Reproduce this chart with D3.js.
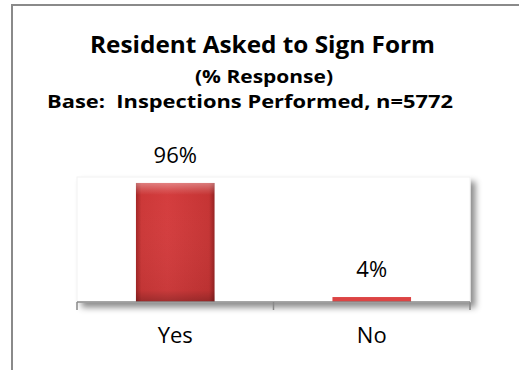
<!DOCTYPE html>
<html>
<head>
<meta charset="utf-8">
<script src="https://cdn.jsdelivr.net/npm/d3@7"></script>
<style>
  html, body { margin: 0; padding: 0; background: #fff; overflow: hidden; }
  svg { display: block; }
  text { font-family: "Open Sans", "Noto Sans", sans-serif; fill: #000; white-space: pre; }
</style>
</head>
<body>
<script>
// ---- data ----
const categories = ["Yes", "No"];
const values = [96, 4];
const valueLabels = ["96%", "4%"];
const titleLines = ["Resident Asked to Sign Form", "(% Response)", "Base:  Inspections Performed, n=5772"];

const W = 519, H = 370;
const svg = d3.select("body").append("svg").attr("width", W).attr("height", H);

const defs = svg.append("defs");
const sh = defs.append("filter").attr("id", "shadow")
  .attr("x", "-10%").attr("y", "-10%").attr("width", "130%").attr("height", "130%");
sh.append("feDropShadow").attr("dx", 5).attr("dy", 5).attr("stdDeviation", 3)
  .attr("flood-color", "#000").attr("flood-opacity", 0.45);

const gh = defs.append("linearGradient").attr("id", "barH").attr("x1", 0).attr("x2", 1).attr("y1", 0).attr("y2", 0);
[["0%", "#a32626"], ["7%", "#cc3838"], ["40%", "#d43d3e"], ["93%", "#c53434"], ["100%", "#962222"]]
  .forEach(([o, c]) => gh.append("stop").attr("offset", o).attr("stop-color", c));
const gv = defs.append("linearGradient").attr("id", "barV").attr("x1", 0).attr("x2", 0).attr("y1", 0).attr("y2", 1);
[["0%", "#ffffff", 0.35], ["6%", "#ffffff", 0.12], ["10%", "#ffffff", 0], ["90%", "#000000", 0.05], ["100%", "#000000", 0.25]]
  .forEach(([o, c, a]) => gv.append("stop").attr("offset", o).attr("stop-color", c).attr("stop-opacity", a));

// outer chart border
svg.append("rect").attr("x", 12).attr("y", 5).attr("width", 600).attr("height", 450)
  .attr("fill", "#fff").attr("stroke", "#8a8a8a").attr("stroke-width", 2);

// titles
const titleSpecs = [
  { y: 53, size: 23, cx: 262.5, len: 345 },
  { y: 83, size: 18, cx: 264, len: 138 },
  { y: 108, size: 18, cx: 250, len: 406 }
];
titleLines.forEach((t, i) => {
  svg.append("text").attr("x", titleSpecs[i].cx).attr("y", titleSpecs[i].y)
    .attr("text-anchor", "middle").attr("font-weight", "bold")
    .attr("font-size", titleSpecs[i].size)
    .attr("textLength", titleSpecs[i].len).attr("lengthAdjust", "spacingAndGlyphs")
    .text(t);
});

// plot
const plot = { left: 77, right: 470, top: 178, bottom: 302 };
const x = d3.scaleBand().domain(categories).range([plot.left, plot.right]).paddingInner(0.6).paddingOuter(0.3);
const y = d3.scaleLinear().domain([0, 100]).range([plot.bottom, plot.top]);

svg.append("rect").attr("x", plot.left).attr("y", plot.top - 1)
  .attr("width", plot.right - plot.left).attr("height", plot.bottom - plot.top + 1)
  .attr("fill", "#fff").attr("stroke", "#f2f2f2").attr("stroke-width", 1)
  .attr("filter", "url(#shadow)");

const bars = svg.append("g");
categories.forEach((c, i) => {
  const bx = x(c), bw = x.bandwidth(), by = y(values[i]), bh = y(0) - y(values[i]);
  bars.append("rect").attr("x", bx).attr("y", by).attr("width", bw).attr("height", bh)
    .attr("fill", values[i] > 10 ? "url(#barH)" : "#dc4444");
  if (values[i] > 10) {
    bars.append("rect").attr("x", bx).attr("y", by).attr("width", bw).attr("height", bh)
      .attr("fill", "url(#barV)");
  }
  svg.append("text").attr("x", bx + bw / 2).attr("y", by - 20)
    .attr("text-anchor", "middle").attr("font-size", 22).text(valueLabels[i]);
});

// x axis
const axis = d3.axisBottom(x).tickSize(0).tickPadding(0);
const ag = svg.append("g").attr("transform", `translate(0,${plot.bottom})`).call(axis);
ag.select(".domain").remove();
ag.selectAll("text").remove();
ag.append("line").attr("x1", plot.left).attr("x2", plot.right).attr("y1", 0).attr("y2", 0)
  .attr("stroke", "#888").attr("stroke-width", 1.5);
const boundaries = [plot.left, (x(categories[0]) + x(categories[1]) + x.bandwidth()) / 2, plot.right];
boundaries.forEach(bx => {
  ag.append("line").attr("x1", bx).attr("x2", bx).attr("y1", 0).attr("y2", 8)
    .attr("stroke", "#888").attr("stroke-width", 1.5);
});
categories.forEach(c => {
  svg.append("text").attr("x", x(c) + x.bandwidth() / 2).attr("y", 343)
    .attr("text-anchor", "middle").attr("font-size", 22).text(c);
});
</script>
</body>
</html>
